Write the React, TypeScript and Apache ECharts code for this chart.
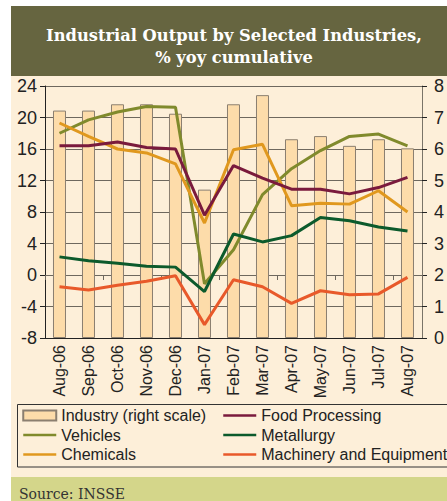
import React, { useEffect, useRef } from "react";
import * as echarts from "echarts";

const categories = ["Aug-06", "Sep-06", "Oct-06", "Nov-06", "Dec-06", "Jan-07", "Feb-07", "Mar-07", "Apr-07", "May-07", "Jun-07", "Jul-07", "Aug-07"];
const industry = [7.22, 7.22, 7.42, 7.42, 7.12, 4.71, 7.42, 7.71, 6.31, 6.41, 6.1, 6.31, 6.02];
const vehicles = [18.0, 19.7, 20.7, 21.4, 21.3, -1.1, 3.2, 10.2, 13.5, 15.8, 17.6, 17.9, 16.4];
const foodProcessing = [16.4, 16.4, 16.9, 16.2, 16.0, 7.6, 13.9, 12.3, 10.9, 10.9, 10.3, 11.1, 12.4];
const chemicals = [19.3, 17.6, 16.0, 15.5, 14.1, 6.6, 15.9, 16.6, 8.8, 9.1, 9.0, 10.7, 8.0];
const metallurgy = [2.3, 1.8, 1.5, 1.1, 1.0, -2.1, 5.2, 4.2, 5.0, 7.3, 6.9, 6.1, 5.6];
const machinery = [-1.5, -1.9, -1.3, -0.8, -0.1, -6.3, -0.6, -1.5, -3.6, -2.0, -2.5, -2.4, -0.3];

const SANS = "'Liberation Sans', Arial, sans-serif";
const SERIF = "'DejaVu Serif', serif";

const hiddenSymbol = { opacity: 0, color: "transparent", borderWidth: 0 };

export default function App() {
  const ref = useRef<HTMLDivElement>(null);
  useEffect(() => {
    if (!ref.current) return;
    const chart = echarts.init(ref.current, undefined, { renderer: "svg" });
    const lineSeries = (name: string, data: number[], color: string) => ({
      name,
      type: "line",
      data,
      yAxisIndex: 0,
      xAxisIndex: 0,
      symbol: "none",
      z: 5,
      lineStyle: { color, width: 3 },
      itemStyle: { color },
    });
    const legendText = { fontFamily: SANS, fontSize: 16, color: "#222222", lineHeight: 17 };
    chart.setOption({
      animation: false,
      backgroundColor: "transparent",
      title: [
        {
          text: "Industrial Output by Selected Industries,\n% yoy cumulative",
          left: 229,
          top: 19,
          textAlign: "center",
          textStyle: { color: "#ffffff", fontFamily: SERIF, fontWeight: "bold", fontSize: 16.3, lineHeight: 22 },
        },
        {
          text: "Source: INSSE",
          left: 14,
          top: 482,
          textStyle: { color: "#333333", fontFamily: SERIF, fontWeight: "normal", fontSize: 14 },
        },
      ],
      grid: { left: 45, right: 14, top: 86, bottom: 163, containLabel: false },
      xAxis: [
        {
          type: "category",
          data: categories,
          position: "bottom",
          axisLine: { onZero: false, lineStyle: { color: "#222222", width: 1 } },
          axisTick: { show: false },
          axisLabel: { rotate: 90, fontFamily: SANS, fontSize: 16, color: "#222222", margin: 7 },
        },
        {
          type: "category",
          data: categories,
          position: "bottom",
          axisLine: { show: true, onZero: true, onZeroAxisIndex: 0, lineStyle: { color: "#6e685e", width: 1 } },
          axisTick: { show: true, length: 5, lineStyle: { color: "#6e685e" } },
          axisLabel: { show: false },
        },
      ],
      yAxis: [
        {
          type: "value",
          min: -8,
          max: 24,
          interval: 4,
          axisLine: { show: true, lineStyle: { color: "#222222" } },
          axisTick: { show: true, length: 5, lineStyle: { color: "#222222" } },
          axisLabel: { fontFamily: SANS, fontSize: 18, color: "#222222", margin: 8 },
          splitLine: { show: true, lineStyle: { color: "#6e685e", width: 1 } },
        },
        {
          type: "value",
          min: 0,
          max: 8,
          interval: 1,
          position: "right",
          axisLine: { show: true, lineStyle: { color: "#7a7468" } },
          axisTick: { show: true, length: 5, lineStyle: { color: "#222222" } },
          axisLabel: { fontFamily: SANS, fontSize: 18, color: "#222222", margin: 12 },
          splitLine: { show: false },
        },
      ],
      legend: [
        {
          orient: "vertical",
          left: 17,
          top: 402,
          itemWidth: 33,
          itemHeight: 10,
          itemGap: 2.5,
          textStyle: legendText,
          data: [
            { name: "Industry (right scale)", icon: "rect" },
            { name: "Vehicles", itemStyle: hiddenSymbol, lineStyle: { width: 2.5 } },
            { name: "Chemicals", itemStyle: hiddenSymbol, lineStyle: { width: 2.5 } },
          ],
        },
        {
          orient: "vertical",
          left: 217,
          top: 402,
          itemWidth: 33,
          itemHeight: 10,
          itemGap: 2.5,
          textStyle: legendText,
          data: [
            { name: "Food Processing", itemStyle: hiddenSymbol, lineStyle: { width: 2.5 } },
            { name: "Metallurgy", itemStyle: hiddenSymbol, lineStyle: { width: 2.5 } },
            { name: "Machinery and Equipment", itemStyle: hiddenSymbol, lineStyle: { width: 2.5 } },
          ],
        },
      ],
      graphic: {
        elements: [
          {
            type: "rect",
            shape: { x: 17.5, y: 404.5, width: 460, height: 62.5 },
            style: { fill: "none", stroke: "#333333", lineWidth: 1 },
            silent: true,
          },
        ],
      },
      series: [
        {
          name: "Industry (right scale)",
          type: "bar",
          data: industry,
          yAxisIndex: 1,
          xAxisIndex: 0,
          barWidth: 13,
          z: 2,
          itemStyle: { color: "#fddcaa", borderColor: "#8b7f70", borderWidth: 1 },
        },
        lineSeries("Vehicles", vehicles, "#808a2c"),
        lineSeries("Chemicals", chemicals, "#e0981e"),
        lineSeries("Food Processing", foodProcessing, "#7a1a3c"),
        lineSeries("Metallurgy", metallurgy, "#0c5a2c"),
        lineSeries("Machinery and Equipment", machinery, "#e8592a"),
      ],
    });
    return () => chart.dispose();
  }, []);

  return (
    <div style={{ position: "absolute", left: 0, top: 0, width: 447, height: 501, background: "#ffffff", overflow: "hidden" }}>
      <div style={{ position: "absolute", left: 11, top: 6, width: 436, height: 70, background: "#666540" }} />
      <div style={{ position: "absolute", left: 11, top: 76, width: 436, height: 401, background: "#fdefd9" }} />
      <div style={{ position: "absolute", left: 11, top: 477, width: 436, height: 24, background: "#d4d68a" }} />
      <div ref={ref} style={{ position: "absolute", left: 0, top: 0, width: 447, height: 501 }} />
    </div>
  );
}
